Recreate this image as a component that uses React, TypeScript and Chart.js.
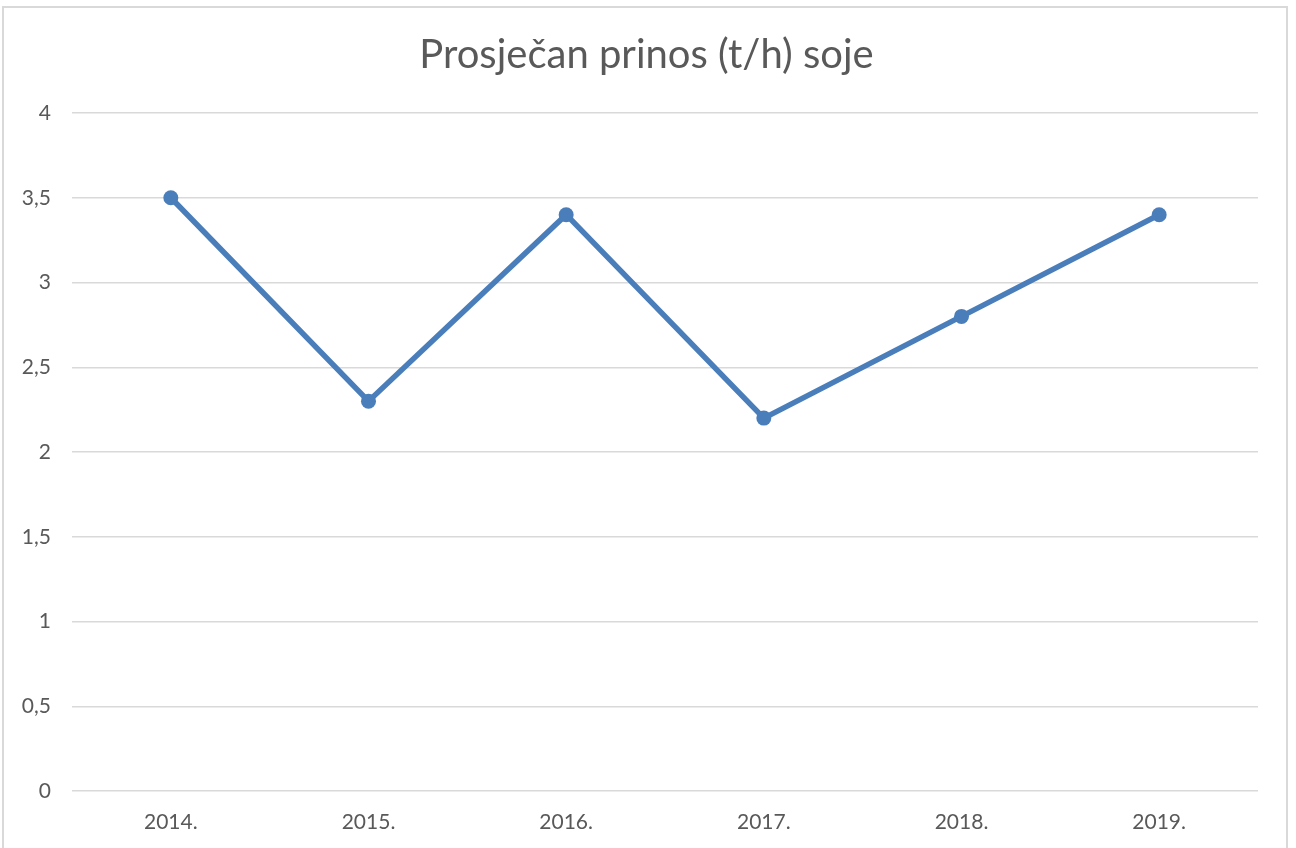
import React, { useEffect, useRef } from "react";
import { Chart, registerables } from "chart.js";

Chart.register(...registerables);

const categories = ["2014.", "2015.", "2016.", "2017.", "2018.", "2019."];
const yieldValues = [3.5, 2.3, 3.4, 2.2, 2.8, 3.4];
const titleText = "Prosječan prinos (t/h) soje";

const FONT = "Lato, 'Open Sans', sans-serif";
const TEXT = "#595959";
const GRID = "#d9d9d9";
const LINE = "#4a7ebb";

const centeredTitle = {
  id: "centeredTitle",
  afterDraw(chart: any) {
    const ctx = chart.ctx;
    ctx.save();
    ctx.fillStyle = TEXT;
    ctx.font = `normal 40px ${FONT}`;
    ctx.textAlign = "center";
    ctx.textBaseline = "middle";
    ctx.fillText(titleText, 646.5, 55);
    ctx.restore();
  },
};

export default function App() {
  const ref = useRef<HTMLCanvasElement | null>(null);
  useEffect(() => {
    if (!ref.current) return;
    const chart = new Chart(ref.current, {
      type: "line",
      data: {
        labels: categories,
        datasets: [
          {
            data: yieldValues,
            borderColor: LINE,
            backgroundColor: LINE,
            borderWidth: 5.5,
            pointRadius: 7.5,
            pointHoverRadius: 7.5,
            pointBorderWidth: 0,
            pointBackgroundColor: LINE,
            tension: 0,
          },
        ],
      },
      plugins: [centeredTitle],
      options: {
        animation: false,
        responsive: false,
        layout: { padding: { left: 0, right: 38, top: 113, bottom: 0 } },
        plugins: {
          legend: { display: false },
          tooltip: { enabled: false },
          title: { display: false },
        },
        scales: {
          x: {
            offset: true,
            grid: { display: false },
            border: { display: false },
            ticks: {
              color: TEXT,
              font: { family: FONT, size: 21 },
              padding: 11,
            },
            afterFit: (s: any) => {
              s.height = 57;
            },
          },
          y: {
            min: 0,
            max: 4,
            ticks: {
              stepSize: 0.5,
              color: TEXT,
              font: { family: FONT, size: 21 },
              padding: 21,
              callback: (v: any) => String(v).replace(".", ","),
            },
            grid: { color: GRID, lineWidth: 1.5, drawTicks: false },
            border: { display: false },
            afterFit: (s: any) => {
              s.width = 72;
            },
          },
        },
      },
    });
    return () => chart.destroy();
  }, []);
  return (
    <div style={{ position: "fixed", left: 0, top: 0, width: 1296, height: 848, background: "#fff" }}>
      <div
        style={{
          position: "absolute",
          left: 2,
          top: 6,
          width: 1286,
          height: 848,
          border: `2px solid ${GRID}`,
          borderBottom: "none",
          boxSizing: "border-box",
        }}
      />
      <canvas ref={ref} width={1296} height={848} style={{ position: "absolute", left: 0, top: 0 }} />
    </div>
  );
}
